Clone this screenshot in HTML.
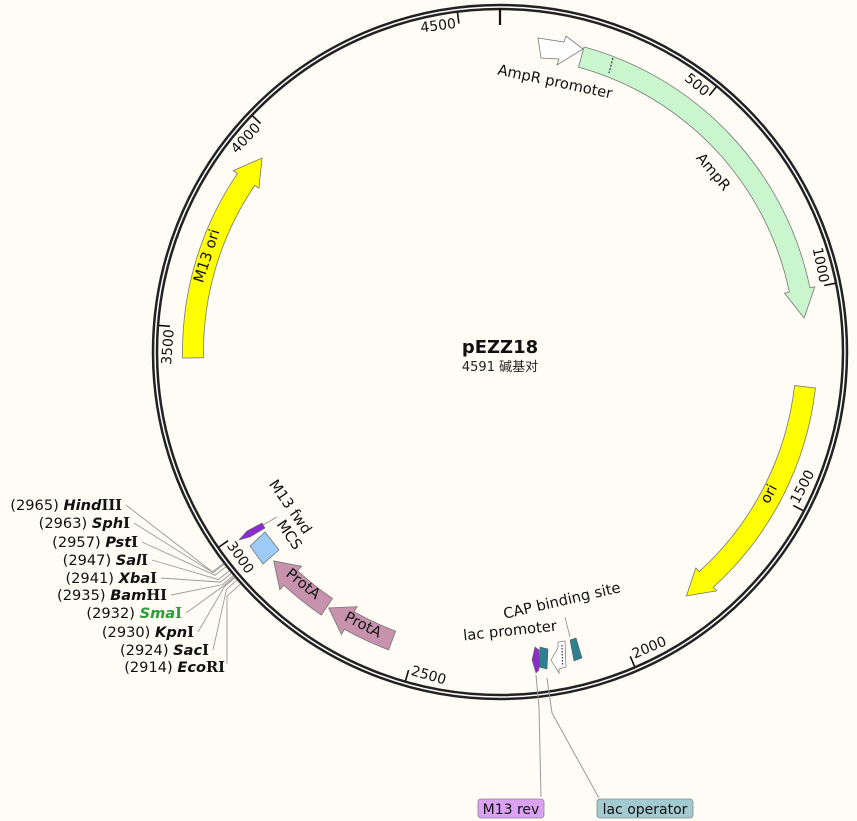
<!DOCTYPE html>
<html><head><meta charset="utf-8"><style>
html,body{margin:0;padding:0;background:#fefcf4;}
svg{display:block;font-family:"DejaVu Sans","Liberation Sans","Noto Sans CJK SC",sans-serif;}
.t{font-size:14px;fill:#111;}
.f{font-size:14.7px;fill:#111;}
.rs{font-size:14.6px;fill:#111;}
.n{font-weight:bold;font-style:italic;}
.b{font-weight:bold;font-family:"DejaVu Serif","Liberation Serif",serif;}
</style></head><body>
<svg id="s" width="857" height="821" viewBox="0 0 857 821" xmlns="http://www.w3.org/2000/svg">
<rect width="857" height="821" fill="#fefcf4"/>
<g id="shapes"></g>
<circle cx="500" cy="352" r="345" fill="none" stroke="#222" stroke-width="6.5"/>
<circle cx="500" cy="352" r="345" fill="none" stroke="#fff" stroke-width="1.5"/>
<g id="ticks" stroke="#111" stroke-width="1.6"></g>

<g class="t" dominant-baseline="central">
<text transform="translate(709.3,95.5) rotate(39.2)" x="-3" text-anchor="end">500</text>
<text transform="translate(824.3,285.5) rotate(78.4)" x="-3" text-anchor="end">1000</text>
<text transform="translate(793.3,505.5) rotate(-62.4)" x="3" text-anchor="start">1500</text>
<text transform="translate(630.3,656.3) rotate(-23.2)" x="3" text-anchor="start">2000</text>
<text transform="translate(408.5,670.1) rotate(16)" x="3" text-anchor="start">2500</text>
<text transform="translate(228,540.7) rotate(55.2)" x="3" text-anchor="start">3000</text>
<text transform="translate(170,326.3) rotate(-85.55)" x="-3" text-anchor="end">3500</text>
<text transform="translate(260.5,123.5) rotate(-46.35)" x="-3" text-anchor="end">4000</text>
<text transform="translate(458.9,23.6) rotate(-7.14)" x="-3" text-anchor="end">4500</text>
</g>

<polygon points="538,38 564,42 566,36 583,49 557,65 559,59 541,58" fill="#fff" stroke="#777" stroke-width="0.8"/>
<line x1="613" y1="58" x2="609" y2="73" stroke="#111" stroke-width="1" stroke-dasharray="2,1.5"/>
<polygon points="250,546 265,532 279,550 263,564" fill="#9ccbf7" stroke="#777" stroke-width="0.8"/>
<polygon points="239,540 247,531 262,523 265,528 250,537" fill="#8e2bd0" stroke="#666" stroke-width="0.6"/>
<line x1="277" y1="517" x2="263" y2="525" stroke="#888" stroke-width="0.8"/>
<polygon points="535,647 539,650 539,670 536,673 532,660" fill="#8e2bd0" stroke="#666" stroke-width="0.6"/>
<polygon points="540,647 548,649 547,669 539,667" fill="#2f7f90" stroke="#555" stroke-width="0.6"/>
<polygon points="551,660 558,648 558,642 565,641 566,667 559,669 559,673" fill="#fff" stroke="#777" stroke-width="0.7"/>
<line x1="562" y1="645" x2="562.5" y2="666" stroke="#111" stroke-width="1" stroke-dasharray="1.5,1.5"/>
<polygon points="570,640 576,638 582,658 574,661" fill="#2f7f90" stroke="#555" stroke-width="0.6"/>
<line x1="565" y1="617" x2="570" y2="637" stroke="#888" stroke-width="0.8"/>
<polyline points="541,797 539,707 536,675" fill="none" stroke="#999" stroke-width="1"/>
<polyline points="599,798 552,713 547,678" fill="none" stroke="#999" stroke-width="1"/>

<g class="f" text-anchor="middle" dominant-baseline="central">
<text transform="translate(555,82) rotate(12)">AmpR promoter</text>
<text transform="translate(713,172) rotate(50)">AmpR</text>
<text transform="translate(769,494) rotate(-62)">ori</text>
<text transform="translate(207,256) rotate(-72)">M13 ori</text>
<text transform="translate(303,584) rotate(39)">ProtA</text>
<text transform="translate(363,625) rotate(27)">ProtA</text>
<text transform="translate(289,535) rotate(55)">MCS</text>
<text transform="translate(290,507) rotate(55)">M13 fwd</text>
<text transform="translate(510,631) rotate(-6)">lac promoter</text>
<text transform="translate(562,601) rotate(-13)">CAP binding site</text>
</g>

<text x="500" y="353" text-anchor="middle" font-size="18" font-weight="bold" fill="#111">pEZZ18</text>
<text x="500" y="371" text-anchor="middle" font-size="13" fill="#222" style="font-family:'DejaVu Sans','Noto Sans CJK SC',sans-serif">4591 碱基对</text>

<g id="rl" stroke="#9a9a9a" stroke-width="0.9" fill="none"></g>
<g class="rs" text-anchor="end">
<text x="122" y="510">(2965) <tspan class="n">Hind</tspan><tspan class="b">III</tspan></text>
<text x="130" y="528">(2963) <tspan class="n">Sph</tspan><tspan class="b">I</tspan></text>
<text x="138" y="547">(2957) <tspan class="n">Pst</tspan><tspan class="b">I</tspan></text>
<text x="148" y="565">(2947) <tspan class="n">Sal</tspan><tspan class="b">I</tspan></text>
<text x="157" y="583">(2941) <tspan class="n">Xba</tspan><tspan class="b">I</tspan></text>
<text x="167" y="600">(2935) <tspan class="n">Bam</tspan><tspan class="b">HI</tspan></text>
<text x="182" y="618">(2932) <tspan class="n" fill="#2e9a3a">Sma</tspan><tspan class="b" fill="#2e9a3a">I</tspan></text>
<text x="194" y="637">(2930) <tspan class="n">Kpn</tspan><tspan class="b">I</tspan></text>
<text x="209" y="655">(2924) <tspan class="n">Sac</tspan><tspan class="b">I</tspan></text>
<text x="225" y="672">(2914) <tspan class="n">Eco</tspan><tspan class="b">RI</tspan></text>
</g>

<rect x="478" y="799" width="66" height="19" rx="3" fill="#dba2f3" stroke="#888" stroke-width="0.8"/>
<text x="511" y="814" text-anchor="middle" font-size="14" fill="#111">M13 rev</text>
<rect x="597" y="799" width="96" height="19" rx="3" fill="#a3c9d1" stroke="#888" stroke-width="0.8"/>
<text x="645" y="814" text-anchor="middle" font-size="14" fill="#111">lac operator</text>

<script>
(function(){
var NS="http://www.w3.org/2000/svg",cx=500,cy=352;
function pt(r,a){a=a*Math.PI/180;return [(cx+r*Math.sin(a)).toFixed(2),(cy-r*Math.cos(a)).toFixed(2)];}
function P(p){return p[0]+","+p[1];}
function arrow(rc,w,a1,a2,head,hw,fill){
 var r1=rc-w/2,r2=rc+w/2,hb=a2-head,R1=rc-hw/2,R2=rc+hw/2;
 var lg=(hb-a1)>180?1:0;
 var d="M"+P(pt(r2,a1))+" A"+r2+","+r2+" 0 "+lg+" 1 "+P(pt(r2,hb))+" L"+P(pt(R2,hb))+" L"+P(pt(rc,a2))+" L"+P(pt(R1,hb))+" L"+P(pt(r1,hb))+" A"+r1+","+r1+" 0 "+lg+" 0 "+P(pt(r1,a1))+" Z";
 var e=document.createElementNS(NS,"path");e.setAttribute("d",d);e.setAttribute("fill",fill);e.setAttribute("stroke","#777");e.setAttribute("stroke-width","0.8");
 document.getElementById("shapes").appendChild(e);
}
arrow(306,21,15.4,83.6,5.3,31,"#c9f6cd");
arrow(307,21,96.5,142.6,4.8,31,"#ffff00");
arrow(307,21,268.9,309.2,5,31,"#ffff00");
arrow(308,20,200.5,213.8,4.5,32,"#c792ab");
arrow(308,20,214.2,227.3,4.5,32,"#c792ab");
var tg=document.getElementById("ticks");
function line(g,a,b){var e=document.createElementNS(NS,"line");e.setAttribute("x1",a[0]);e.setAttribute("y1",a[1]);e.setAttribute("x2",b[0]);e.setAttribute("y2",b[1]);g.appendChild(e);return e;}
for(var p=500;p<4591;p+=500){var a=p/4591*360;line(tg,pt(342,a),pt(331,a));}
var o=line(tg,pt(344,0),pt(327,0));o.setAttribute("stroke-width","2.2");
var rl=document.getElementById("rl");
var L=[[122,510,2965],[130,528,2963],[138,547,2957],[148,565,2947],[157,583,2941],[167,600,2935],[182,618,2932],[194,637,2930],[209,655,2924],[225,672,2914]];
L.forEach(function(l,i){var a=228.2+ (l[2]-2914)/51*4.4;var q=pt(362,a);
 var pl=document.createElementNS(NS,"polyline");
 var s=(l[0]+4)+","+(l[1]-5);
 if(i==9){s=(l[0]+2)+","+(l[1]-8)+" "+(l[0]+2)+",596";}
 pl.setAttribute("points",s+" "+P(q)+" "+P(pt(348,a)));rl.appendChild(pl);});
})();
</script>
</svg>
</body></html>
